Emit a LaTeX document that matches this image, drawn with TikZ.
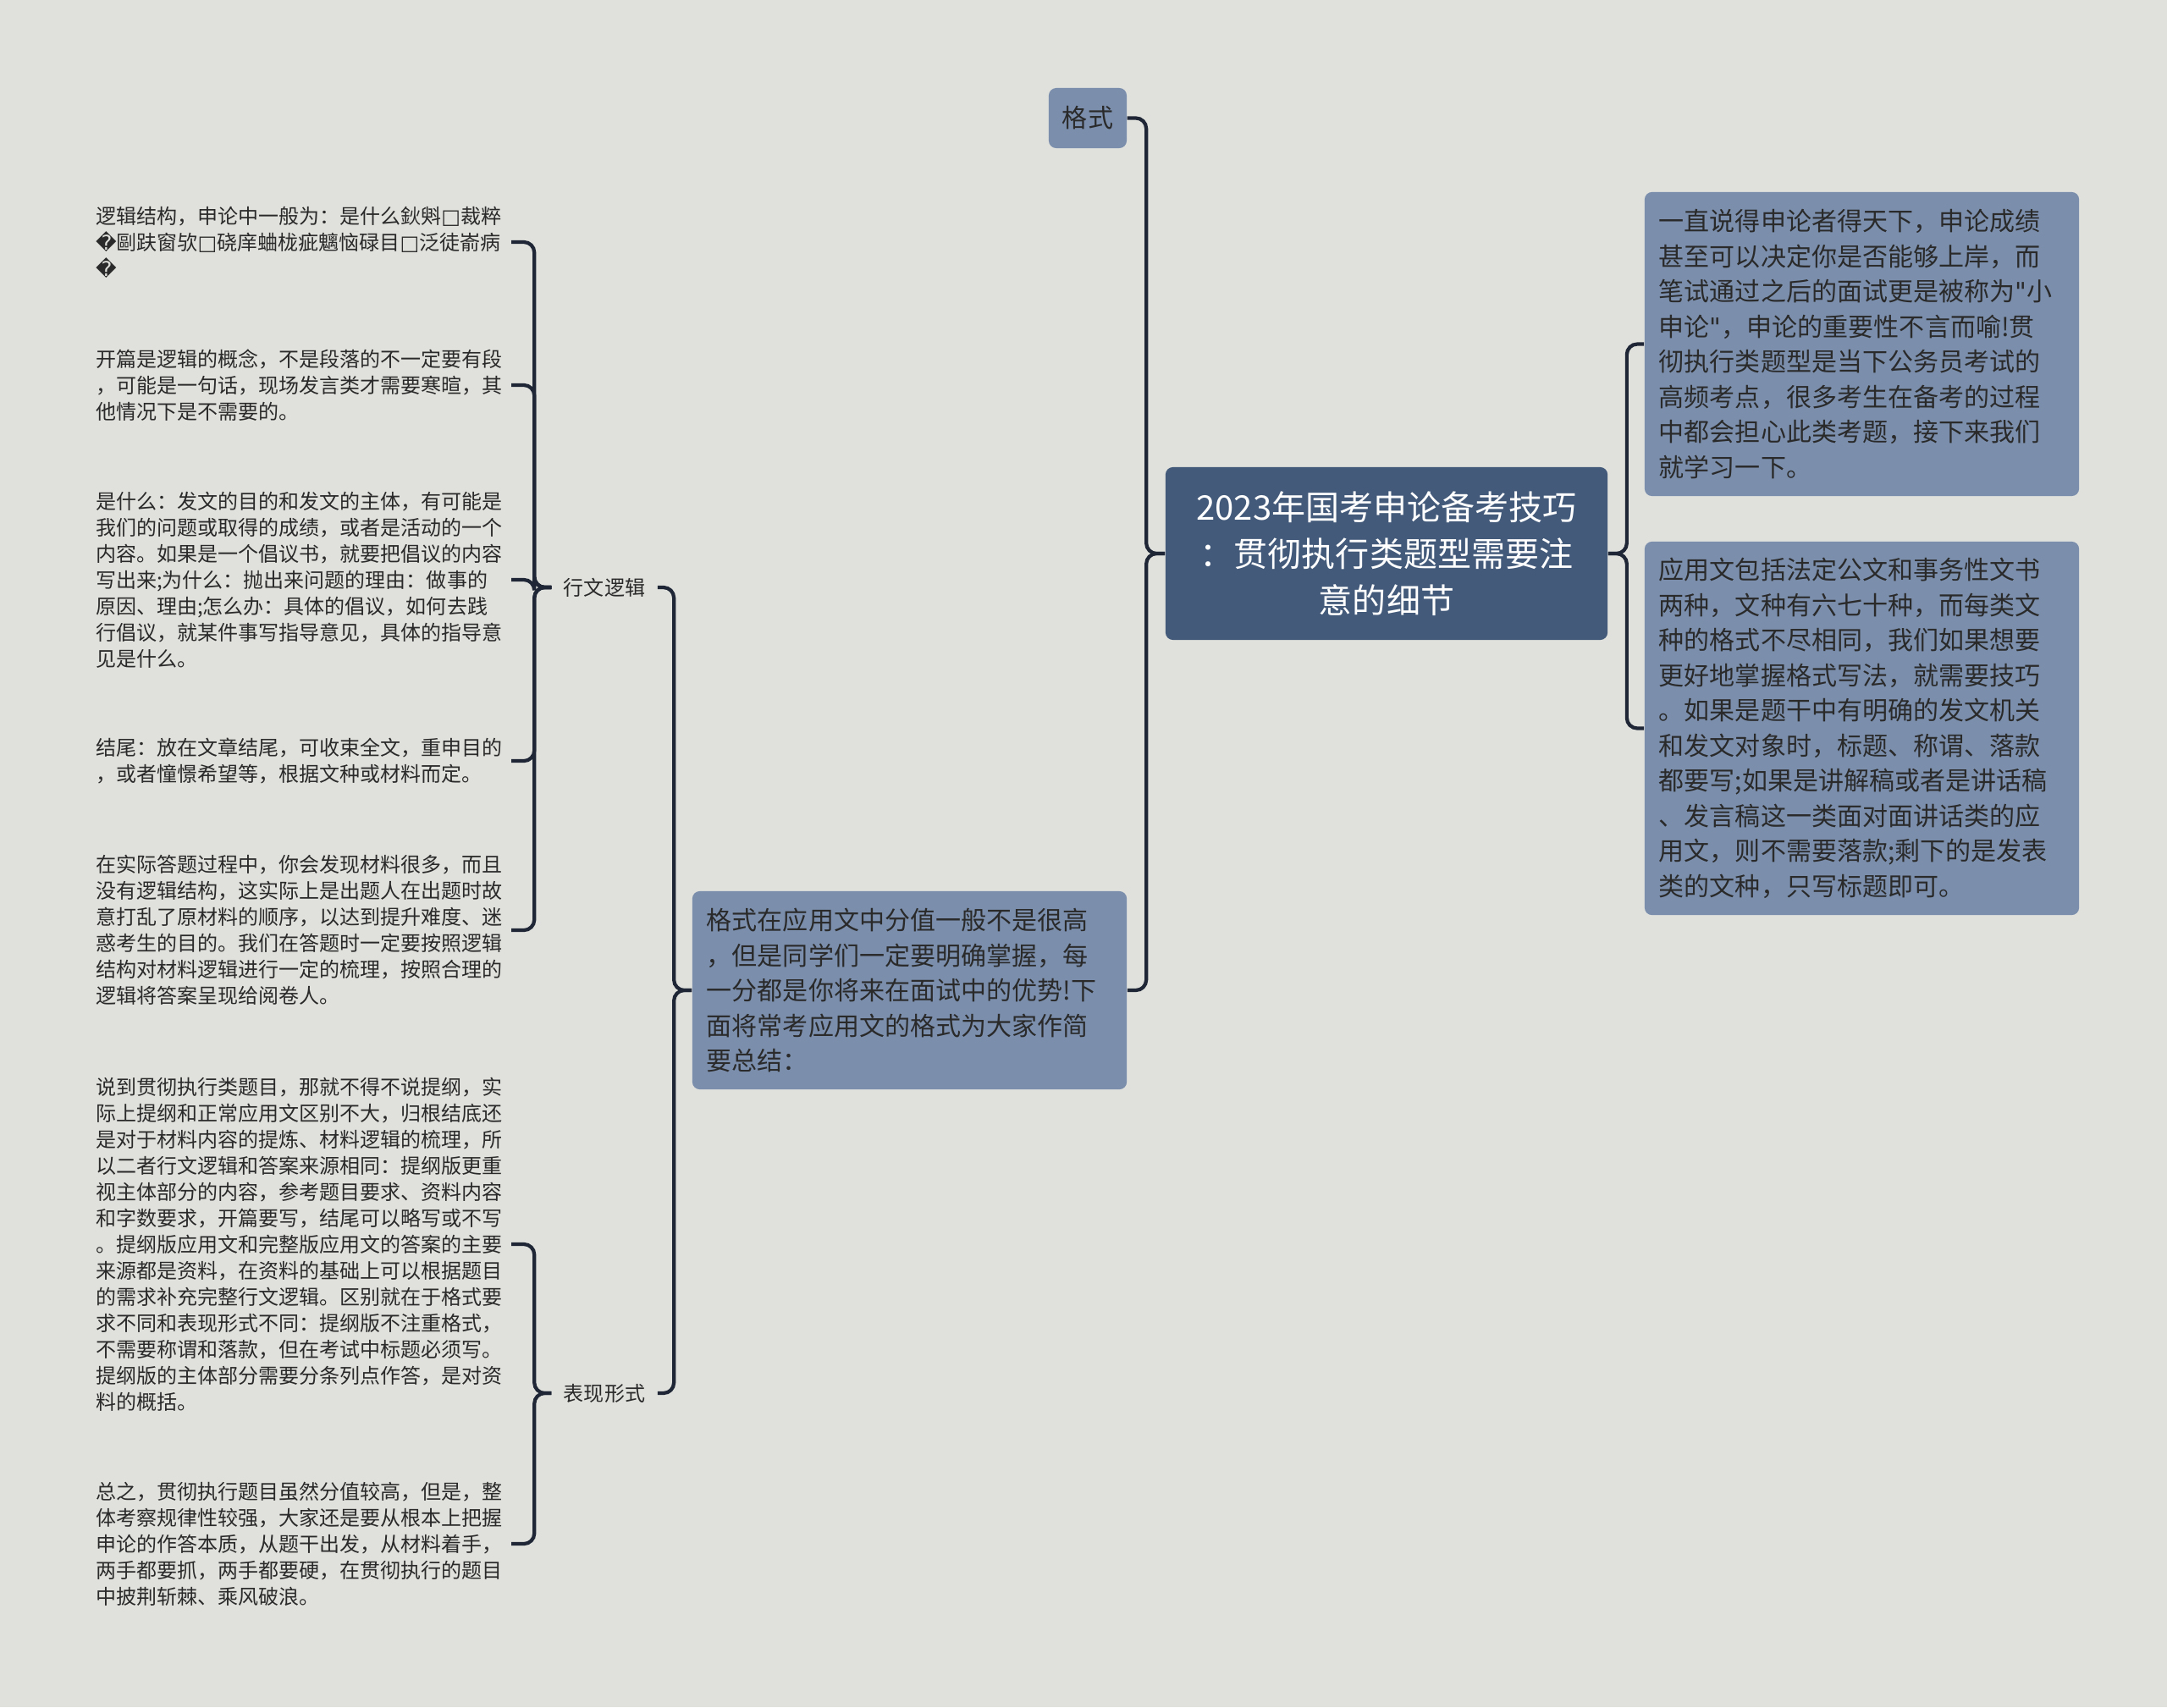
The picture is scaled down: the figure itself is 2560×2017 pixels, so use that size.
\documentclass[tikz,border=0pt]{standalone}
\usepackage{fontspec}
\setmainfont{Noto Sans CJK SC}
\newfontfamily\repl{DejaVu Sans}
\usetikzlibrary{positioning}

\definecolor{bgcol}{HTML}{E0E1DC}
\definecolor{rootcol}{HTML}{435A7A}
\definecolor{leafcol}{HTML}{7B8FAD}
\definecolor{linecol}{HTML}{1F2635}
\definecolor{txtcol}{HTML}{2A2A2A}

\begin{document}
\begin{tikzpicture}[x=0.01cm,y=-0.01cm,
    link/.style={draw=linecol,line width=1.2pt,rounded corners=3.5pt},
    rootbox/.style={rectangle,rounded corners=2.5pt,fill=rootcol,text=white,
        font=\fontsize{11.38pt}{15.65pt}\selectfont,align=center,
        text width=4.9cm,inner xsep=0.16cm,inner ysep=0pt,minimum height=2.04cm},
    leafbox/.style={rectangle,rounded corners=2.5pt,fill=leafcol,text=txtcol,
        font=\fontsize{8.54pt}{11.8pt}\selectfont,align=left,
        text width=4.79cm,inner xsep=0.17cm,inner ysep=0pt},
    tag/.style={rectangle,inner xsep=0.14cm,inner ysep=2pt,text=txtcol,
        font=\fontsize{6.83pt}{8.8pt}\selectfont},
    note/.style={rectangle,inner xsep=0.04cm,inner ysep=0pt,text=txtcol,anchor=east,
        text width=4.86cm,align=left,font=\fontsize{6.83pt}{8.82pt}\selectfont}]
\useasboundingbox[fill=bgcol] (0,0) rectangle (2560,2017);

% centre and right side
\node[rootbox] (root) at (1638,654)
    {2023年国考申论备考技巧\\：贯彻执行类题型需要注\\意的细节};
\node[leafbox,minimum height=3.59cm] (intro) at (2199.5,406.5)
    {一直说得申论者得天下，申论成绩\\甚至可以决定你是否能够上岸，而\\笔试通过之后的面试更是被称为{\repl\symbol{"22}}小\\申论{\repl\symbol{"22}}，申论的重要性不言而喻!贯\\彻执行类题型是当下公务员考试的\\高频考点，很多考生在备考的过程\\中都会担心此类考题，接下来我们\\就学习一下。};
\node[leafbox,minimum height=4.41cm] (apptext) at (2199.5,860.5)
    {应用文包括法定公文和事务性文书\\两种，文种有六七十种，而每类文\\种的格式不尽相同，我们如果想要\\更好地掌握格式写法，就需要技巧\\。如果是题干中有明确的发文机关\\和发文对象时，标题、称谓、落款\\都要写;如果是讲解稿或者是讲话稿\\、发言稿这一类面对面讲话类的应\\用文，则不需要落款;剩下的是发表\\类的文种，只写标题即可。};

% left side
\node[leafbox,text width=0.6cm,align=center,inner xsep=0.16cm,minimum height=0.71cm] (fmt) at (1285,139.5) {格式};
\node[leafbox,minimum height=2.34cm] (summary) at (1074.5,1170)
    {格式在应用文中分值一般不是很高\\，但是同学们一定要明确掌握，每\\一分都是你将来在面试中的优势!下\\面将常考应用文的格式为大家作简\\要总结：};
\node[tag] (logic) at (714,694) {行文逻辑};
\node[tag] (form) at (714,1646) {表现形式};

\node[note] (lg1) at (604,286)
    {逻辑结构，申论中一般为：是什么鈥斞{\repl □}裁粹\\{\repl �}剾趺窗欤{\repl □}硗庠蛐栊疵魑恼碌目{\repl □}泛徒嵛病\\{\repl �}};
\node[note] (lg2) at (604,455)
    {开篇是逻辑的概念，不是段落的不一定要有段\\，可能是一句话，现场发言类才需要寒暄，其\\他情况下是不需要的。};
\node[note] (lg3) at (604,685)
    {是什么：发文的目的和发文的主体，有可能是\\我们的问题或取得的成绩，或者是活动的一个\\内容。如果是一个倡议书，就要把倡议的内容\\写出来;为什么：抛出来问题的理由：做事的\\原因、理由;怎么办：具体的倡议，如何去践\\行倡议，就某件事写指导意见，具体的指导意\\见是什么。};
\node[note] (lg4) at (604,899)
    {结尾：放在文章结尾，可收束全文，重申目的\\，或者憧憬希望等，根据文种或材料而定。};
\node[note] (lg5) at (604,1099)
    {在实际答题过程中，你会发现材料很多，而且\\没有逻辑结构，这实际上是出题人在出题时故\\意打乱了原材料的顺序，以达到提升难度、迷\\惑考生的目的。我们在答题时一定要按照逻辑\\结构对材料逻辑进行一定的梳理，按照合理的\\逻辑将答案呈现给阅卷人。};
\node[note] (fm1) at (604,1470)
    {说到贯彻执行类题目，那就不得不说提纲，实\\际上提纲和正常应用文区别不大，归根结底还\\是对于材料内容的提炼、材料逻辑的梳理，所\\以二者行文逻辑和答案来源相同：提纲版更重\\视主体部分的内容，参考题目要求、资料内容\\和字数要求，开篇要写，结尾可以略写或不写\\。提纲版应用文和完整版应用文的答案的主要\\来源都是资料，在资料的基础上可以根据题目\\的需求补充完整行文逻辑。区别就在于格式要\\求不同和表现形式不同：提纲版不注重格式，\\不需要称谓和落款，但在考试中标题必须写。\\提纲版的主体部分需要分条列点作答，是对资\\料的概括。};
\node[note] (fm2) at (604,1824)
    {总之，贯彻执行题目虽然分值较高，但是，整\\体考察规律性较强，大家还是要从根本上把握\\申论的作答本质，从题干出发，从材料着手，\\两手都要抓，两手都要硬，在贯彻执行的题目\\中披荆斩棘、乘风破浪。};

% connectors
\foreach \leaf in {intro,apptext}
    \draw[link] (root.east) -- ++(22,0) |- (\leaf.west);
\foreach \leaf in {fmt,summary}
    \draw[link] (root.west) -- ++(-22,0) |- (\leaf.east);
\foreach \leaf in {logic,form}
    \draw[link] (summary.west) -- ++(-21,0) |- (\leaf.east);
\foreach \leaf in {lg1,lg2,lg3,lg4,lg5}
    \draw[link] (logic.west) -- ++(-20,0) |- (\leaf.east);
\foreach \leaf in {fm1,fm2}
    \draw[link] (form.west) -- ++(-20,0) |- (\leaf.east);
\end{tikzpicture}
\end{document}
